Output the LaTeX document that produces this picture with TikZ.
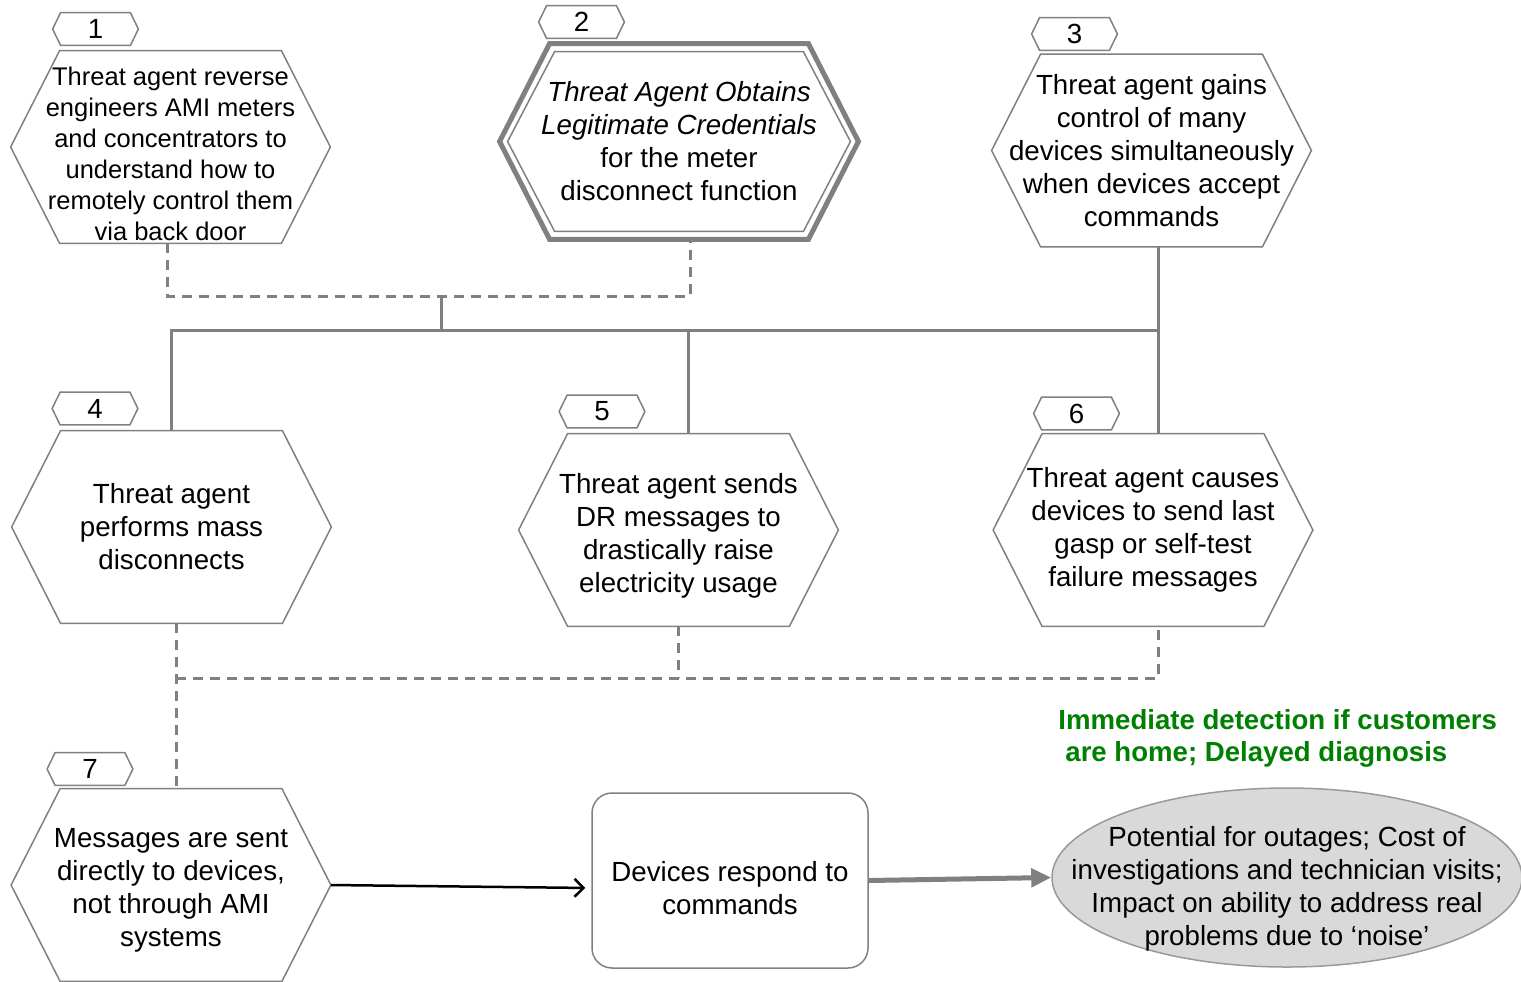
\documentclass[tikz,border=0pt]{standalone}
\usepackage{fontspec}
\setmainfont{Liberation Sans}
\usetikzlibrary{arrows.meta,shapes.geometric}
\definecolor{linegray}{RGB}{128,128,128}
\definecolor{detgreen}{RGB}{0,128,0}
\definecolor{impactfill}{RGB}{217,217,217}
% taller first line, to set a text block a little lower in its box
\newcommand{\firstline}[1]{\rule{0pt}{#1}}

\begin{document}
\begin{tikzpicture}[x=0.5pt,y=-0.5pt,
  hexdraw/.style n args={3}{append after command={\pgfextra{\draw[#3]
    ([shift={(#1+#2*0.5,-#2)}]\tikzlastnode.north west) --
    ([shift={(-#1-#2*0.5,-#2)}]\tikzlastnode.north east) --
    ([xshift=-#2]\tikzlastnode.east) --
    ([shift={(-#1-#2*0.5,#2)}]\tikzlastnode.south east) --
    ([shift={(#1+#2*0.5,#2)}]\tikzlastnode.south west) --
    ([xshift=#2]\tikzlastnode.west) -- cycle;}}},
  hexline/.style={draw=linegray, line width=0.75pt},
  boxfont/.style={font=\fontsize{13.85}{16.5}\selectfont},
  hexbox/.style={boxfont, minimum width=159.5pt, minimum height=96pt, inner sep=0pt,
    align=center, hexdraw={24.5pt}{0pt}{hexline}},
  keybox/.style={boxfont, minimum width=179pt, minimum height=97.5pt, inner sep=0pt,
    align=center, hexdraw={25pt}{0pt}{draw=linegray, line width=2.5pt},
    hexdraw={25.5pt}{4pt}{hexline}},
  tagbox/.style={boxfont, minimum width=42.5pt, minimum height=16pt, inner sep=0pt,
    hexdraw={4pt}{0pt}{hexline}},
  busline/.style={draw=linegray, line width=1.5pt},
  dashline/.style={busline, dash pattern=on 5pt off 3.5pt},
  outcome/.style={boxfont, draw=linegray, line width=0.75pt, rounded corners=10pt,
    minimum width=138pt, minimum height=87.5pt, align=center},
  impact/.style={boxfont, ellipse, draw=linegray!80, line width=0.75pt, fill=impactfill,
    minimum width=235pt, minimum height=89.5pt, inner xsep=-40pt, inner ysep=-10pt,
    align=center},
  note/.style={text=detgreen, font=\fontsize{13.8}{16}\selectfont\bfseries, align=left,
    inner sep=0pt}]
\useasboundingbox (0,0) rectangle (1521,981);

% attack steps
\node[hexbox, font=\fontsize{12.75}{15.5}\selectfont] (hex1) at (170.5,147)
  {\firstline{16pt}Threat agent reverse\\engineers AMI meters\\and concentrators to\\understand how to\\remotely control them\\via back door};
\node[keybox] (hex2) at (679,141.5)
  {\textit{Threat Agent Obtains}\\\textit{Legitimate Credentials}\\for the meter\\disconnect function};
\node[hexbox] (hex3) at (1151.5,150.5)
  {Threat agent gains\\control of many\\devices simultaneously\\when devices accept\\commands};
\node[hexbox] (hex4) at (171.5,527) {Threat agent\\performs mass\\disconnects};
\node[hexbox] (hex5) at (678.5,530)
  {\firstline{16pt}Threat agent sends\\DR messages to\\drastically raise\\electricity usage};
\node[hexbox] (hex6) at (1153,530)
  {Threat agent causes\\devices to send last\\gasp or self-test\\failure messages};
\node[hexbox] (hex7) at (171,885)
  {\firstline{15pt}Messages are sent\\directly to devices,\\not through AMI\\systems};

% step numbers
\node[tagbox] (tag1) at (95.5,29) {1};
\node[tagbox] (tag2) at (581.5,22) {2};
\node[tagbox] (tag3) at (1074.5,34) {3};
\node[tagbox] (tag4) at (95,408.5) {4};
\node[tagbox] (tag5) at (602,411.5) {5};
\node[tagbox] (tag6) at (1076.5,413.5) {6};
\node[tagbox] (tag7) at (90,769) {7};

% result and impact
\node[outcome] (resp) at (730,880.5) {\firstline{18pt}Devices respond to\\commands};
\node[impact] (impact) at (1287,877.5)
  {\firstline{21pt}Potential for outages; Cost of\\investigations and technician visits;\\Impact on ability to address real\\problems due to ‘noise’};
\node[note, anchor=west] (detect) at (1058,738.5)
  {Immediate detection if customers\\\hspace*{3.5pt}are home; Delayed diagnosis};

\coordinate (j12) at (441,296);
\coordinate (busR) at (1158,330);
\coordinate (j47) at (176,678);

% upper links
\draw[dashline] ([xshift=-1.75pt]hex1.south) |- (j12) -| ([xshift=5.5pt]hex2.south);
\draw[busline] (j12) -- (j12 |- busR);
\draw[busline] (hex4.north) |- (busR);
\draw[busline] ([xshift=4.75pt]hex5.north) |- (busR);
\draw[busline] ([xshift=3.25pt]hex3.south) -- ([xshift=2.5pt]hex6.north);

% lower links
\draw[dashline] ([xshift=2.25pt]hex4.south) -- ([xshift=2.5pt]hex7.north);
\draw[dashline] (j47) -| ([xshift=2.5pt]hex6.south);
\draw[dashline] (hex5.south) -- (hex5.south |- j47);

\draw[line width=1.25pt, -{Straight Barb[length=4.5pt,width=9pt]}, shorten >=3pt]
  (hex7.east) -- ([yshift=-3.75pt]resp.west);
\draw[draw=linegray, line width=2.5pt, -{Triangle[length=10pt,width=9pt]}]
  (resp.east) -- (impact.west);
\end{tikzpicture}
\end{document}
